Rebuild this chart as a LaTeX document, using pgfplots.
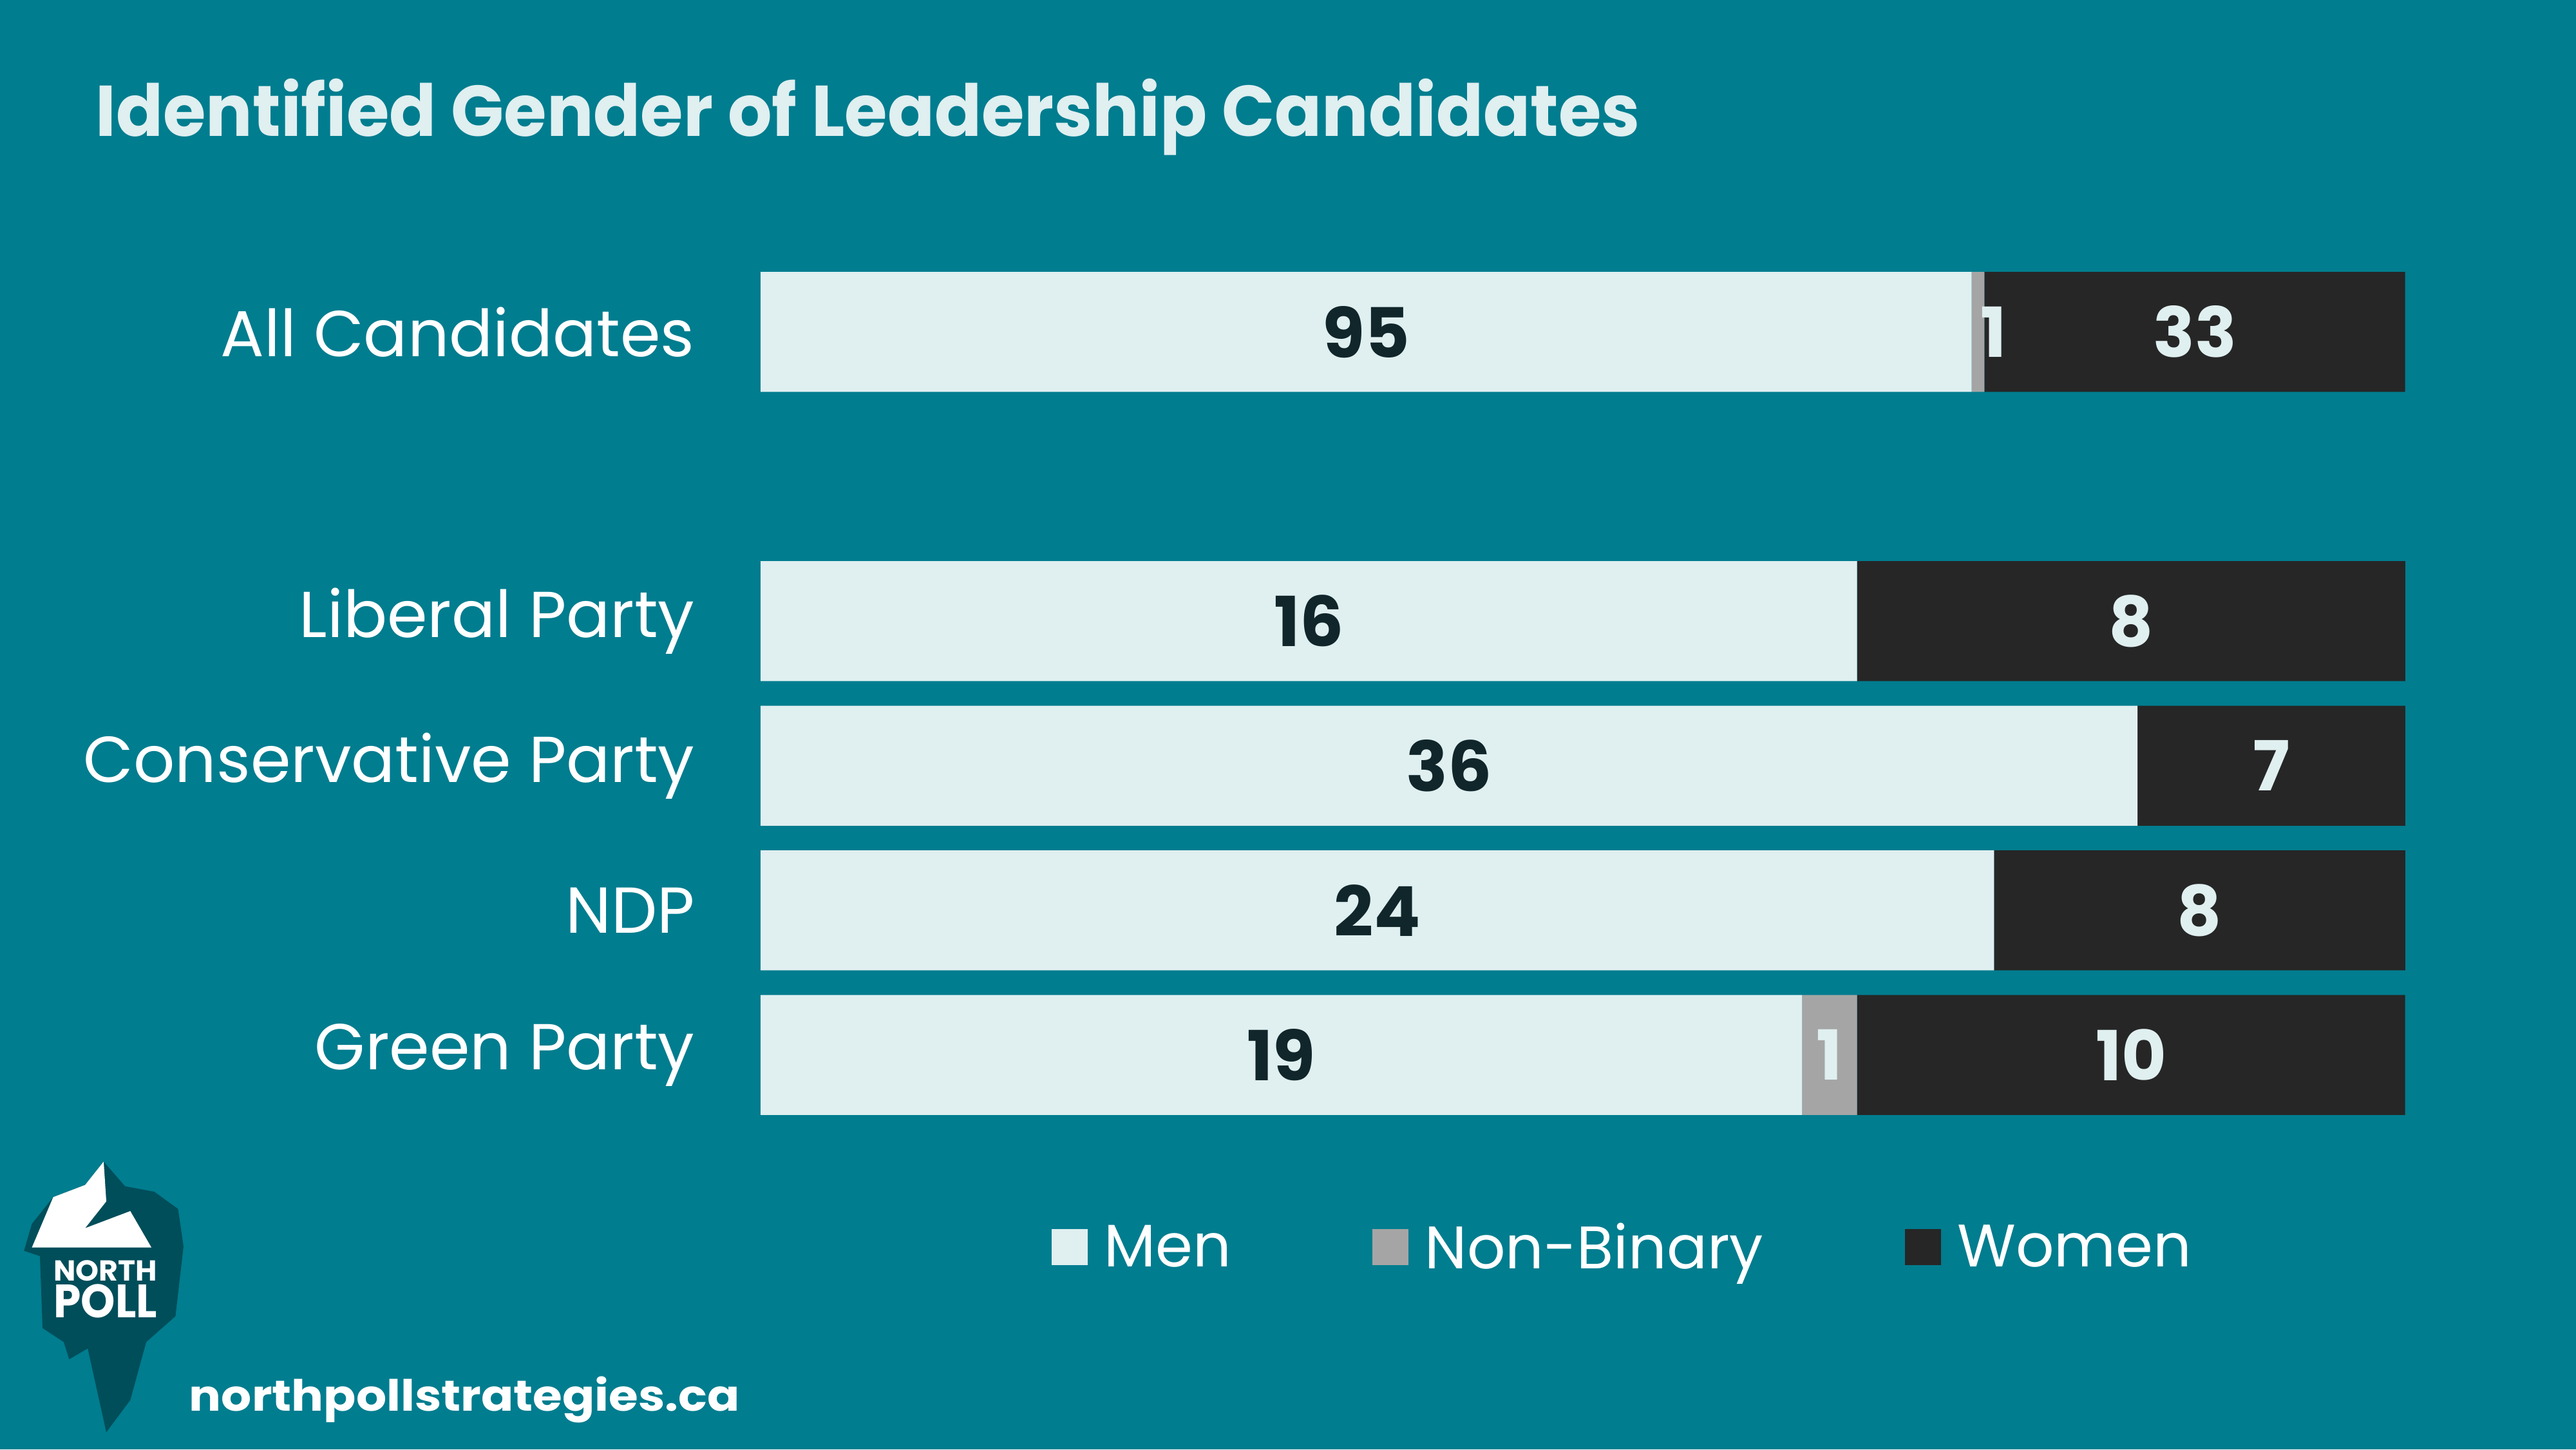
\documentclass[border=0pt]{standalone}
\usepackage{pgfplots}
\pgfplotsset{compat=1.18}
\usepackage{fontspec}
\setmainfont{Poppins}
\definecolor{bg}{RGB}{0,125,143}
\definecolor{men}{RGB}{224,239,240}
\definecolor{nb}{RGB}{165,165,165}
\definecolor{wom}{RGB}{38,38,38}
\definecolor{logodark}{RGB}{0,78,90}
\definecolor{darktxt}{RGB}{16,38,42}
\definecolor{lighttxt}{RGB}{224,239,240}
\pgfplotsset{
  sqlegend/.style={legend image code/.code={\fill[##1] (0bp,-11bp) rectangle (22bp,11bp);}},
  barframe/.style={
    at={(463bp,196bp)}, anchor=south west,
    width=1001bp, height=528bp, scale only axis,
    xmin=0, xmax=100, ymin=-0.5, ymax=5.5,
    xbar stacked, bar width=0.83,
    point meta=explicit symbolic,
    nodes near coords,
    every node near coord/.append style={font=\fontsize{42bp}{50bp}\selectfont\bfseries, anchor=center},
  }
}
\begin{document}
\begin{tikzpicture}[x=1bp,y=1bp]
\fill[bg] (0,0) rectangle (1568,882);
% title
\node[anchor=base west, inner sep=0pt, text=lighttxt] at (58,799)
  {\resizebox{940bp}{35bp}{\bfseries Identified Gender of Leadership Candidates}};
\begin{axis}[
  barframe,
  axis line style={draw=none}, tick style={draw=none}, major tick length=0pt,
  xtick=\empty,
  ytick={0,1,2,3,5},
  yticklabels={Green Party,NDP,Conservative Party,Liberal Party,All Candidates},
  yticklabel style={font=\fontsize{39.5bp}{46bp}\selectfont, text=white, inner sep=0pt, xshift=-40bp},
  legend style={at={(0.1768,-0.138)}, anchor=west, draw=none, fill=none, inner sep=0pt, outer sep=0pt,
    font=\fontsize{36.5bp}{44bp}\selectfont, text=white, legend columns=3,
    /tikz/every odd column/.append style={column sep=10bp},
    /tikz/every even column/.append style={column sep=86bp},
    nodes={inner sep=0pt}},
  legend cell align=left,
]
\addplot[sqlegend, fill=men, draw=none, every node near coord/.append style={text=darktxt}] coordinates {
  (73.643,5) [95]
  (66.667,3) [16]
  (83.721,2) [36]
  (75.000,1) [24]
  (63.333,0) [19]
};
\addlegendentry{Men}
\addplot[sqlegend, fill=nb, draw=none] coordinates {
  (0.775,5) [\relax]
  (0,3) [\relax]
  (0,2) [\relax]
  (0,1) [\relax]
  (3.333,0) [\relax]
};
\addlegendentry{Non-Binary}
\addplot[sqlegend, fill=wom, draw=none, every node near coord/.append style={text=lighttxt}] coordinates {
  (25.581,5) [33]
  (33.333,3) [8]
  (16.279,2) [7]
  (25.000,1) [8]
  (33.333,0) [10]
};
\addlegendentry{Women}
\end{axis}
% overlay axis: non-binary labels drawn on top of all bars
\begin{axis}[barframe, hide axis]
\addplot[fill=none, draw=none] coordinates {
  (73.643,5) [\relax]
  (66.667,3) [\relax]
  (83.721,2) [\relax]
  (75.000,1) [\relax]
  (63.333,0) [\relax]
};
\addplot[fill=none, draw=none,
  visualization depends on={rawy \as \ry},
  every node near coord/.append style={text=lighttxt, xshift={(\ry>4)*9.5bp}}] coordinates {
  (0.775,5) [1]
  (0,3) [\relax]
  (0,2) [\relax]
  (0,1) [\relax]
  (3.333,0) [1]
};
\end{axis}
% logo
\fill[logodark] (63.1,175.1) -- (76.1,160.1) -- (93.9,156.8) -- (108.4,146.3) -- (111.7,123.5) -- (106.8,81.0) -- (89.0,65.3) -- (79.3,30.0) -- (64.7,10.4) -- (53.4,61.4) -- (42.1,54.8) -- (38.8,65.3) -- (25.9,73.8) -- (24.3,117.6) -- (14.6,120.8) -- (19.4,137.2) -- (32.4,153.5) -- (51.8,160.9) -- cycle;
\fill[white] (63.1,175.1) -- (64.7,150.9) -- (51.8,134.6) -- (79.3,145.0) -- (92.2,122.8) -- (19.4,122.8) -- (32.4,153.5) -- (51.8,160.9) -- cycle;
\node[anchor=base west, inner sep=0pt, text=white] at (32.4,102.5) {\resizebox{63bp}{12.5bp}{\bfseries NORTH}};
\node[anchor=base west, inner sep=0pt, text=white] at (32.4,80.3) {\resizebox{63bp}{20.3bp}{\bfseries POLL}};
\node[anchor=base west, inner sep=0pt, text=white] at (115,23.5) {\resizebox{335bp}{21bp}{\bfseries northpollstrategies.ca}};
\end{tikzpicture}
\end{document}
